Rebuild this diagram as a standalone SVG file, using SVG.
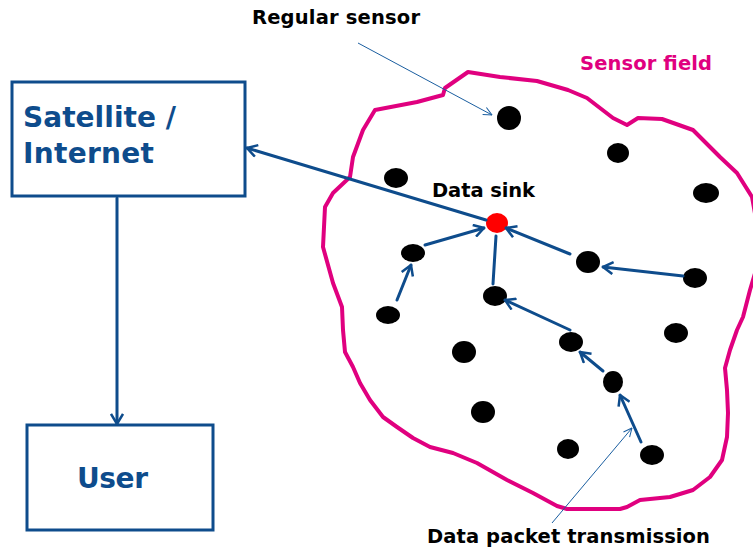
<svg xmlns="http://www.w3.org/2000/svg" width="753" height="550" viewBox="0 0 753 550">
<style>
.box{fill:#ffffff;stroke:#0e4c8c;stroke-width:3}
.btxt{font-family:"DejaVu Sans",Verdana,sans-serif;font-weight:bold;fill:#0e4c8c}
.ktxt{font-family:"DejaVu Sans",Verdana,sans-serif;font-weight:bold;fill:#000000;font-size:19.5px}
.mtxt{font-family:"DejaVu Sans",Verdana,sans-serif;font-weight:bold;fill:#e0007f;font-size:19.5px}
.sensor{fill:#000000}
.sink{fill:#ff0000}
.field{fill:none;stroke:#e0007f;stroke-width:4;stroke-linejoin:round}
.link{fill:none;stroke:#0e4c8c;stroke-width:3;stroke-linecap:round}
.thin{fill:none;stroke:#1a5ea0;stroke-width:1}
</style>
<defs>
<marker id="ah" viewBox="0 0 12 14" refX="11" refY="7" markerWidth="12" markerHeight="14" markerUnits="userSpaceOnUse" orient="auto">
<path d="M1,1 L11,7 L1,13" fill="none" stroke="#0e4c8c" stroke-width="2.5"/>
</marker>
<marker id="ahs" viewBox="0 0 10 10" refX="9.5" refY="5" markerWidth="10" markerHeight="10" markerUnits="userSpaceOnUse" orient="auto">
<path d="M1,1 L9.5,5 L1,9" fill="none" stroke="#1a5ea0" stroke-width="1"/>
</marker>
</defs>
<rect width="753" height="550" fill="#ffffff"/>

<g id="sensor-field">
<path class="field" d="M468,72 L500,77 L537,81 L568,90 L587,98 L613,118 L627,125 L638,118 L662,119 L693,130 L720,157 L737,173 L752,197 L758,230 L756,270 L750,290 L743,317 L737,330 L730,350 L725,368 L727,390 L728,413 L727,437 L722,460 L710,477 L693,490 L670,497 L640,500 L627,507 L620,509 L567,509 L557,506 L533,493 L507,480 L477,463 L453,453 L430,447 L413,438 L397,427 L383,417 L370,400 L360,383 L353,367 L345,352 L343,330 L342,307 L333,283 L323,247 L325,207 L333,193 L350,177 L353,157 L363,130 L375,110 L417,102 L443,95 L445,88 Z"/>
<text class="mtxt" x="580" y="70" textLength="132">Sensor field</text>
</g>

<g id="satellite">
<rect class="box" x="12" y="82" width="233" height="114"/>
<text class="btxt" x="23" y="127" font-size="28" textLength="153">Satellite /</text>
<text class="btxt" x="23" y="163" font-size="28" textLength="131">Internet</text>
</g>

<g id="user">
<rect class="box" x="27" y="425" width="186" height="105"/>
<text class="btxt" x="77" y="488" font-size="28" textLength="71">User</text>
</g>

<g id="sensors">
<ellipse id="s1" class="sensor" cx="509" cy="118" rx="12" ry="12"/>
<ellipse id="s2" class="sensor" cx="618" cy="153" rx="11" ry="10"/>
<ellipse id="s3" class="sensor" cx="396" cy="178" rx="12" ry="10"/>
<ellipse id="s4" class="sensor" cx="706" cy="193" rx="13" ry="10"/>
<ellipse id="s5" class="sensor" cx="413" cy="253" rx="12" ry="9"/>
<ellipse id="s6" class="sensor" cx="588" cy="262" rx="12" ry="11"/>
<ellipse id="s7" class="sensor" cx="695" cy="278" rx="12" ry="10"/>
<ellipse id="s8" class="sensor" cx="495" cy="296" rx="12" ry="10"/>
<ellipse id="s9" class="sensor" cx="388" cy="315" rx="12" ry="9"/>
<ellipse id="s10" class="sensor" cx="676" cy="333" rx="12" ry="10"/>
<ellipse id="s11" class="sensor" cx="571" cy="342" rx="12" ry="10"/>
<ellipse id="s12" class="sensor" cx="464" cy="352" rx="12" ry="11"/>
<ellipse id="s13" class="sensor" cx="613" cy="382" rx="10" ry="11"/>
<ellipse id="s14" class="sensor" cx="483" cy="412" rx="12" ry="11"/>
<ellipse id="s15" class="sensor" cx="568" cy="449" rx="11" ry="10"/>
<ellipse id="s16" class="sensor" cx="652" cy="455" rx="12" ry="10"/>
</g>

<g id="data-sink">
<ellipse class="sink" cx="497" cy="223" rx="11" ry="10"/>
<text class="ktxt" x="432" y="197" textLength="103">Data sink</text>
</g>

<g id="connectors">
<line class="link" x1="486" y1="220" x2="247" y2="148" marker-end="url(#ah)"/>
<line class="link" x1="117" y1="198" x2="117" y2="424" marker-end="url(#ah)"/>
<line class="link" x1="425" y1="245" x2="484" y2="228" marker-end="url(#ah)"/>
<line class="link" x1="570" y1="254" x2="506" y2="228" marker-end="url(#ah)"/>
<line class="link" x1="683" y1="276" x2="603" y2="267" marker-end="url(#ah)"/>
<line class="link" x1="493" y1="284" x2="496" y2="236"/>
<line class="link" x1="397" y1="300" x2="411" y2="265" marker-end="url(#ah)"/>
<line class="link" x1="570" y1="330" x2="505" y2="300" marker-end="url(#ah)"/>
<line class="link" x1="603" y1="371" x2="580" y2="352" marker-end="url(#ah)"/>
<line class="link" x1="641" y1="442" x2="620" y2="395" marker-end="url(#ah)"/>
</g>

<g id="annotations">
<line class="thin" x1="358" y1="43" x2="492" y2="115" marker-end="url(#ahs)"/>
<text class="ktxt" x="252" y="24" textLength="168">Regular sensor</text>
<line class="thin" x1="552" y1="523" x2="632" y2="428" marker-end="url(#ahs)"/>
<text class="ktxt" x="427" y="543" textLength="283">Data packet transmission</text>
</g>
</svg>
